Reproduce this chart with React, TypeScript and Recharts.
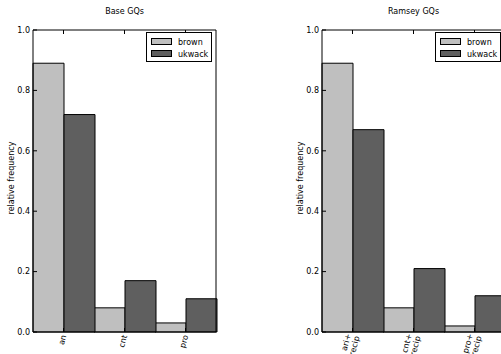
import React from 'react';
import { BarChart, Bar, XAxis, YAxis } from 'recharts';

// Base GQs panel
const baseCategories = ['an', 'cnt', 'pro'];
const baseBrown = [0.89, 0.08, 0.03];
const baseUkwack = [0.72, 0.17, 0.11];

// Ramsey GQs panel
const ramseyCategories = ['ari+\nrecip', 'cnt+\nrecip', 'pro+\nrecip'];
const ramseyBrown = [0.89, 0.08, 0.02];
const ramseyUkwack = [0.67, 0.21, 0.12];

const yTicks = [0, 0.2, 0.4, 0.6, 0.8, 1.0];
const seriesNames = ['brown', 'ukwack'];
const seriesColors = ['#bfbfbf', '#5f5f5f'];

const FONT = '"DejaVu Sans", sans-serif';
const W = 230;
const H = 354;

function CatTick(props: any) {
  const { x, y, payload } = props;
  const lines = String(payload.value).split('\n');
  const lh = 1.1;
  return (
    <g transform={`translate(${x},${y}) rotate(-75)`}>
      <text textAnchor="end" fontSize={8} fontFamily={FONT} fill="#000">
        {lines.map((l, i) => (
          <tspan key={i} x={0} dy={i === 0 ? `${0.35 - ((lines.length - 1) * lh) / 2}em` : `${lh}em`}>
            {l}
          </tspan>
        ))}
      </text>
    </g>
  );
}

function Panel({ title, categories, brown, ukwack, left }: any) {
  const data = categories.map((c: string, i: number) => ({ cat: c, brown: brown[i], ukwack: ukwack[i] }));
  return (
    <div style={{ position: 'absolute', left, top: 0, width: W, height: H }}>
      <BarChart
        width={W}
        height={H}
        data={data}
        margin={{ top: 29, right: 13, bottom: 0, left: 8 }}
        barCategoryGap={0}
        barGap={0}
      >
        <XAxis
          xAxisId="b"
          dataKey="cat"
          height={22}
          interval={0}
          tickSize={-4}
          tickMargin={7}
          stroke="#000"
          tick={<CatTick />}
        />
        <XAxis
          xAxisId="t"
          dataKey="cat"
          orientation="top"
          height={1}
          interval={0}
          tickSize={-4}
          stroke="#000"
          tick={() => null}
        />
        <YAxis
          yAxisId="l"
          domain={[0, 1]}
          ticks={yTicks}
          interval={0}
          width={25}
          tickSize={-4}
          tickMargin={7}
          stroke="#000"
          tick={{ fill: '#000', fontSize: 8, fontFamily: FONT }}
          tickFormatter={(v: number) => v.toFixed(1)}
        />
        <YAxis
          yAxisId="r"
          orientation="right"
          domain={[0, 1]}
          ticks={yTicks}
          interval={0}
          width={1}
          tickSize={-4}
          stroke="#000"
          tick={() => null}
        />
        <Bar xAxisId="b" yAxisId="l" dataKey="brown" fill={seriesColors[0]} stroke="#000" strokeWidth={1} isAnimationActive={false} />
        <Bar xAxisId="b" yAxisId="l" dataKey="ukwack" fill={seriesColors[1]} stroke="#000" strokeWidth={1} isAnimationActive={false} />
      </BarChart>
      <svg width={W} height={H} style={{ position: 'absolute', left: 0, top: 0, pointerEvents: 'none' }}>
        <text x={124.5} y={14} textAnchor="middle" fontSize={8} fontFamily={FONT} fill="#000">
          {title}
        </text>
        <text
          transform="translate(13.5,178) rotate(-90)"
          textAnchor="middle"
          fontSize={8}
          fontFamily={FONT}
          fill="#000"
        >
          relative frequency
        </text>
        <g>
          <rect x={146.5} y={32.5} width={65} height={29} fill="#fff" stroke="#000" strokeWidth={1} />
          {seriesNames.map((name, i) => (
            <g key={name}>
              <rect x={151.5} y={38.5 + i * 12} width={20} height={6} fill={seriesColors[i]} stroke="#000" strokeWidth={1} />
              <text x={178} y={45 + i * 12} fontSize={8} fontFamily={FONT} fill="#000">
                {name}
              </text>
            </g>
          ))}
        </g>
      </svg>
    </div>
  );
}

export default function App() {
  return (
    <div style={{ position: 'absolute', left: 0, top: 0, width: 501, height: 354, overflow: 'hidden', background: '#fff' }}>
      <Panel title="Base GQs" categories={baseCategories} brown={baseBrown} ukwack={baseUkwack} left={0} />
      <Panel title="Ramsey GQs" categories={ramseyCategories} brown={ramseyBrown} ukwack={ramseyUkwack} left={289} />
    </div>
  );
}
